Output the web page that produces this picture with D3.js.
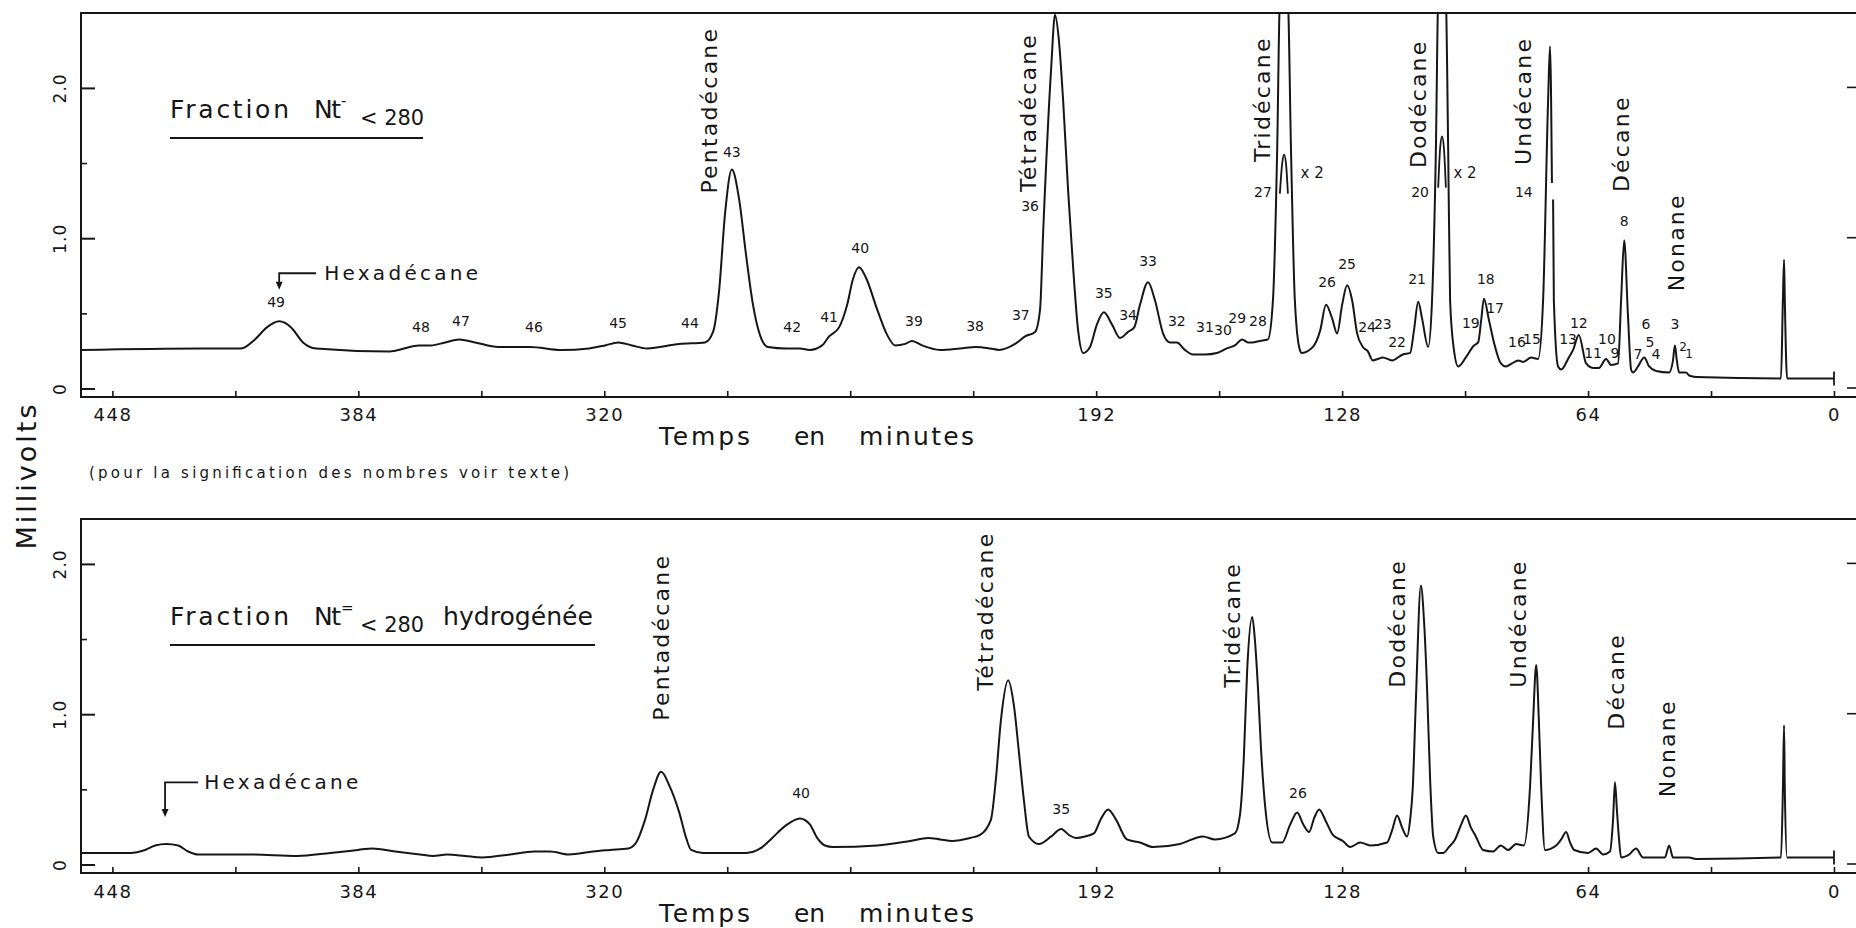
<!DOCTYPE html>
<html>
<head>
<meta charset="utf-8">
<script src="https://cdn.jsdelivr.net/npm/d3@7"></script>
<style>
  body { margin: 0; background: #fff; }
  svg text { font-family: "DejaVu Sans", sans-serif; fill: #161616; }
</style>
</head>
<body>
<div id="chart"></div>
<script>
const topTrace = [
  [456.2,0.26],[425.2,0.27],[414.5,0.27],[410.9,0.33],[407.8,0.41],[404.6,0.45],[401.5,0.41],[398.4,0.31],[395.0,0.27],
  [376.0,0.25],[368.2,0.29],[365.1,0.29],[361.4,0.31],[357.8,0.33],[353.6,0.31],[347.6,0.28],[339.3,0.28],[331.2,0.26],
  [324.0,0.27],[319.8,0.29],[316.4,0.31],[312.8,0.29],[308.9,0.27],[300.5,0.30],[293.8,0.31],[291.7,0.38],[290.1,0.66],
  [288.6,1.16],[286.8,1.46],[284.9,1.26],[283.1,0.89],[281.3,0.56],[279.5,0.36],[277.4,0.28],[272.7,0.27],[269.1,0.27],
  [266.5,0.26],[263.3,0.29],[261.5,0.35],[258.9,0.41],[256.8,0.56],[255.3,0.73],[253.7,0.81],[251.9,0.74],[249.0,0.53],
  [246.4,0.36],[244.3,0.29],[241.7,0.30],[239.9,0.32],[237.3,0.29],[232.6,0.26],[227.4,0.27],[223.3,0.28],[219.6,0.27],
  [217.3,0.26],[213.1,0.30],[210.5,0.35],[207.9,0.38],[206.6,0.53],[205.8,1.04],[203.7,2.14],[202.7,2.49],[201.7,2.32],
  [200.6,1.92],[199.3,1.32],[198.0,0.81],[196.7,0.39],[195.4,0.24],[193.6,0.28],[191.8,0.43],[190.0,0.51],[187.9,0.43],
  [185.8,0.34],[183.7,0.38],[182.1,0.41],[180.6,0.56],[178.5,0.71],[176.7,0.59],[174.6,0.37],[172.8,0.31],[171.0,0.31],
  [168.9,0.26],[166.8,0.23],[163.7,0.23],[160.6,0.24],[158.0,0.27],[155.9,0.29],[154.0,0.33],[152.5,0.31],[151.4,0.31],
  [149.4,0.32],[147.3,0.33],[146.0,0.59],[144.9,1.59],[144.2,2.6],[143.1,2.8],[142.1,2.6],[141.3,1.59],[140.3,0.59],
  [139.0,0.26],[138.5,0.24],[135.6,0.28],[133.7,0.39],[132.2,0.56],[130.6,0.47],[129.3,0.37],[128.0,0.56],[126.7,0.69],
  [125.4,0.59],[124.1,0.37],[122.6,0.28],[121.3,0.25],[120.0,0.19],[118.7,0.20],[117.4,0.21],[115.0,0.19],[112.2,0.23],
  [110.3,0.24],[109.3,0.39],[108.2,0.58],[107.2,0.47],[105.6,0.28],[104.6,0.59],[103.6,1.59],[103.0,2.6],[102.0,2.8],
  [101.0,2.6],[100.4,1.59],[99.9,0.59],[98.9,0.26],[97.8,0.15],[95.8,0.21],[93.7,0.29],[92.6,0.31],[91.8,0.46],
  [91.1,0.60],[89.8,0.46],[88.5,0.31],[86.7,0.17],[85.4,0.15],[83.8,0.17],[82.2,0.19],[80.9,0.18],[78.8,0.21],
  [77.0,0.20],[75.7,0.59],[74.4,1.92],[73.9,2.28],[73.4,1.37],[73.25,null],[73.1,1.26],[72.9,0.59],[71.8,0.15],
  [71.0,0.13],[69.0,0.21],[67.9,0.26],[66.4,0.36],[64.5,0.17],[62.7,0.14],[61.2,0.14],[59.3,0.20],[58.0,0.16],
  [56.2,0.17],[55.4,0.59],[54.6,0.99],[53.6,0.48],[52.8,0.13],[52.3,0.11],[51.0,0.15],[49.4,0.21],[48.1,0.15],
  [46.3,0.12],[42.9,0.11],[41.9,0.19],[41.4,0.29],[40.9,0.19],[40.3,0.11],[38.5,0.11],[37.7,0.09],[35.9,0.08],
  [13.8,0.07],[13.3,0.59],[13.0,0.86],[12.8,0.59],[12.2,0.07],[0,0.07]
];

// pics attenues x 2 (27 et 20)
const inset27 = [[144.2,1.30],[143.6,1.50],[143.1,1.56],[142.6,1.50],[142.1,1.30]];
const inset20 = [[103.0,1.34],[102.5,1.60],[102.0,1.68],[101.5,1.60],[101.0,1.34]];

const botTrace = [
  [456.2,0.08],[443.4,0.08],[439.5,0.10],[436.9,0.13],[434.0,0.14],[430.9,0.13],[428.3,0.09],[425.7,0.07],[412.2,0.07],
  [399.9,0.06],[391.3,0.08],[384.1,0.10],[380.4,0.11],[374.4,0.09],[367.9,0.07],[364.6,0.06],[360.9,0.07],[356.2,0.06],
  [351.8,0.05],[344.5,0.07],[338.3,0.09],[334.1,0.09],[329.2,0.07],[322.9,0.09],[318.5,0.10],[313.8,0.11],[311.7,0.15],
  [309.4,0.30],[307.3,0.50],[305.2,0.62],[303.1,0.53],[300.5,0.35],[298.7,0.18],[297.4,0.10],[294.3,0.08],[283.1,0.08],
  [279.4,0.11],[276.3,0.18],[272.9,0.26],[269.1,0.31],[266.5,0.27],[264.6,0.18],[262.6,0.13],[260.5,0.12],[249.0,0.13],
  [240.4,0.16],[235.7,0.18],[232.6,0.17],[229.5,0.16],[224.8,0.18],[222.2,0.20],[219.4,0.30],[218.1,0.57],[216.8,0.96],
  [214.9,1.23],[213.4,1.06],[212.1,0.75],[210.8,0.43],[209.5,0.19],[206.9,0.14],[203.7,0.19],[201.1,0.24],[199.1,0.20],
  [197.2,0.18],[194.9,0.19],[192.6,0.21],[190.7,0.31],[188.9,0.37],[186.8,0.30],[184.0,0.17],[180.6,0.15],[177.2,0.12],
  [170.2,0.14],[164.2,0.19],[161.1,0.17],[155.9,0.21],[154.6,0.33],[153.6,0.70],[152.7,1.30],[151.4,1.65],[150.7,1.50],
  [149.9,1.18],[149.1,0.77],[148.1,0.41],[146.2,0.15],[143.6,0.15],[141.5,0.27],[139.7,0.35],[138.1,0.27],[136.6,0.22],
  [135.3,0.31],[134.0,0.37],[132.2,0.29],[130.4,0.20],[127.8,0.16],[125.9,0.12],[123.3,0.15],[120.7,0.13],[116.3,0.15],
  [115.0,0.23],[113.7,0.33],[112.4,0.25],[111.1,0.19],[110.3,0.30],[109.6,0.52],[108.8,1.10],[107.5,1.86],[106.7,1.63],
  [105.9,1.18],[105.1,0.57],[104.3,0.19],[103.0,0.08],[101.7,0.08],[100.2,0.12],[98.6,0.17],[97.0,0.27],[95.8,0.33],
  [94.5,0.25],[93.2,0.19],[91.3,0.10],[88.7,0.09],[86.7,0.13],[84.8,0.10],[82.7,0.14],[80.7,0.13],[79.1,0.52],
  [78.3,0.96],[77.5,1.33],[76.8,0.96],[76.2,0.52],[75.2,0.10],[72.3,0.13],[71.0,0.17],[69.7,0.22],[68.7,0.15],
  [67.6,0.10],[64.0,0.08],[61.9,0.11],[60.1,0.07],[58.3,0.09],[57.5,0.30],[57.0,0.55],[56.5,0.37],[56.0,0.19],
  [55.4,0.05],[53.3,0.07],[51.5,0.11],[49.7,0.05],[46.3,0.05],[44.0,0.05],[42.9,0.13],[41.9,0.05],[37.7,0.05],
  [35.9,0.04],[13.8,0.05],[13.3,0.50],[13.0,0.93],[12.8,0.50],[12.2,0.05],[0,0.05]
];

// numeros des pics [texte, temps, mV]
const topPeakLabels = [
  ["49",405.4,0.58],["48",367.7,0.41],["47",357.3,0.45],["46",338.3,0.41],["45",316.4,0.44],["44",297.7,0.44],
  ["43",286.8,1.58],["42",271.1,0.41],["41",261.5,0.48],["40",253.4,0.94],["39",239.4,0.45],["38",223.5,0.42],
  ["37",211.6,0.49],["36",209.2,1.22],["35",190.0,0.64],["34",183.7,0.49],["33",178.5,0.85],["32",171.0,0.45],
  ["31",163.7,0.41],["30",159.0,0.39],["29",155.3,0.47],["28",149.9,0.45],["27",148.6,1.31],["26",131.9,0.71],
  ["25",126.7,0.83],["24",121.5,0.41],["23",117.4,0.43],["22",113.7,0.31],["21",108.5,0.73],["20",107.7,1.31],
  ["19",94.5,0.44],["18",90.6,0.73],["17",88.2,0.54],["16",82.5,0.31],["15",78.6,0.33],["14",80.7,1.31],
  ["13",69.2,0.33],["12",66.4,0.44],["11",62.7,0.24],["10",59.1,0.33],["9",57.0,0.24],["8",54.6,1.12],
  ["7",51.0,0.23],["6",48.9,0.43],["5",47.9,0.31],["4",46.3,0.23],["3",41.4,0.43],["2",39.3,0.28],["1",37.7,0.23]
];
const topFactorLabels = [["x 2",135.8,1.44],["x 2",96.0,1.44]];
const botPeakLabels = [["40",268.8,0.48],["35",201.1,0.37],["26",139.5,0.48]];

// noms des alcanes [texte, temps, mV au pied du texte]
const topNames = [
  ["Pentadécane",292.7,1.30],["Tétradécane",209.5,1.31],["Tridécane",148.8,1.51],["Dodécane",108.2,1.47],
  ["Undécane",80.7,1.49],["Décane",55.4,1.31],["Nonane",41.1,0.65]
];
const botNames = [
  ["Pentadécane",305.2,0.96],["Tétradécane",220.9,1.16],["Tridécane",156.6,1.18],["Dodécane",113.5,1.18],
  ["Undécane",82.2,1.18],["Décane",56.7,0.90],["Nonane",43.2,0.45]
];

// fleche Hexadecane [temps fleche, mV pointe, mV haut, temps fin trait, temps texte]
const topHexa = [404.6, 0.66, 0.77, 395.0, 392.9];
const botHexa = [434.3, 0.32, 0.55, 425.7, 424.1];

const xTickValues = d3.range(448, -1, -32);
const xTickLabels = [448, 384, 320, 192, 128, 64, 0];
const yTickValues = [0, 1, 2];
const yTickLabels = ["0", "1.0", "2.0"];
const yMinorValues = [0.5, 1.5];

const W = 1856, H = 928;
const left = 81, rightEdge = 1856;

const svg = d3.select("#chart").append("svg")
  .attr("width", W).attr("height", H);

const x = d3.scaleLinear().domain([448, 0]).range([112.4, 1834]);

const panels = [
  { top: 13, base: 397, y: d3.scaleLinear().domain([0, 2]).range([389, 88.4]),
    trace: topTrace, insets: [inset27, inset20], peaks: topPeakLabels, names: topNames,
    hexa: topHexa, padTick: 11 },
  { top: 519, base: 873, y: d3.scaleLinear().domain([0, 2]).range([865, 564.4]),
    trace: botTrace, insets: [], peaks: botPeakLabels, names: botNames,
    hexa: botHexa, padTick: 12 }
];

const line = d3.line()
  .defined(d => d[1] !== null)
  .curve(d3.curveMonotoneX);

panels.forEach((p, i) => {
  const g = svg.append("g");
  const y = p.y;

  // cadre
  g.append("path")
    .attr("d", `M${rightEdge},${p.top}H${left}V${p.base}H${rightEdge}`)
    .attr("fill", "none").attr("stroke", "#161616").attr("stroke-width", 2);

  // axe X
  const ax = g.append("g")
    .attr("transform", `translate(0,${p.base})`)
    .call(d3.axisBottom(x).tickValues(xTickValues).tickSize(-6).tickPadding(p.padTick)
      .tickFormat(d => xTickLabels.includes(d) ? d : ""));
  ax.select(".domain").remove();
  ax.selectAll("line").attr("stroke", "#161616").attr("stroke-width", 1.6);
  ax.selectAll("text").attr("font-size", 18).attr("letter-spacing", 1.5)
    .attr("font-family", "DejaVu Sans").attr("fill", "#161616");

  // graduations Y
  g.selectAll(".ymaj").data(yTickValues).join("line")
    .attr("x1", left).attr("x2", left + 14)
    .attr("y1", d => y(d)).attr("y2", d => y(d))
    .attr("stroke", "#161616").attr("stroke-width", 2);
  g.selectAll(".ymin").data(yMinorValues).join("line")
    .attr("x1", left).attr("x2", left + 6)
    .attr("y1", d => y(d)).attr("y2", d => y(d))
    .attr("stroke", "#161616").attr("stroke-width", 1.6);
  g.selectAll(".yright").data(yTickValues).join("line")
    .attr("x1", rightEdge - 9).attr("x2", rightEdge)
    .attr("y1", d => y(d) - 1).attr("y2", d => y(d) - 1)
    .attr("stroke", "#161616").attr("stroke-width", 1.6);
  g.selectAll(".ylab").data(yTickValues).join("text")
    .attr("transform", d => `translate(60,${y(d)}) rotate(-90)`)
    .attr("text-anchor", "middle").attr("dominant-baseline", "central")
    .attr("font-size", 17).attr("letter-spacing", 1)
    .text((d, k) => yTickLabels[k]);

  // trace
  const clipId = "clip" + i;
  svg.append("defs").append("clipPath").attr("id", clipId)
    .append("rect").attr("x", left).attr("y", p.top)
    .attr("width", rightEdge - left).attr("height", p.base - p.top);
  const plot = g.append("g").attr("clip-path", `url(#${clipId})`);
  line.x(d => x(d[0])).y(d => y(d[1]));
  plot.append("path").datum(p.trace)
    .attr("d", line).attr("fill", "none")
    .attr("stroke", "#161616").attr("stroke-width", 2).attr("stroke-linejoin", "round");
  p.insets.forEach(s => {
    plot.append("path").datum(s)
      .attr("d", d3.line().x(d => x(d[0])).y(d => y(d[1])).curve(d3.curveMonotoneX))
      .attr("fill", "none").attr("stroke", "#161616").attr("stroke-width", 1.8);
  });

  // repere du zero
  const last = p.trace[p.trace.length - 1];
  g.append("line")
    .attr("x1", x(0)).attr("x2", x(0))
    .attr("y1", y(last[1]) - 7).attr("y2", y(last[1]) + 7)
    .attr("stroke", "#161616").attr("stroke-width", 1.8);

  // numeros des pics
  g.selectAll(".pk").data(p.peaks).join("text")
    .attr("x", d => x(d[1])).attr("y", d => y(d[2]))
    .attr("text-anchor", "middle").attr("dominant-baseline", "central")
    .attr("font-size", d => (d[0] === "1" || d[0] === "2") && i === 0 ? 12 : 14)
    .text(d => d[0]);

  // noms des alcanes
  g.selectAll(".nm").data(p.names).join("text")
    .attr("transform", d => `translate(${x(d[1])},${y(d[2])}) rotate(-90)`)
    .attr("dominant-baseline", "central")
    .attr("font-size", 22).attr("letter-spacing", 2.2)
    .text(d => d[0]);

  // Hexadecane
  const h = p.hexa;
  g.append("path")
    .attr("d", `M${x(h[3])},${y(h[2])}H${x(h[0])}V${y(h[1]) - 6}`)
    .attr("fill", "none").attr("stroke", "#161616").attr("stroke-width", 1.8);
  g.append("path")
    .attr("d", `M${x(h[0]) - 3.5},${y(h[1]) - 8}L${x(h[0]) + 3.5},${y(h[1]) - 8}L${x(h[0])},${y(h[1])}Z`)
    .attr("fill", "#161616");
  g.append("text")
    .attr("x", x(h[4])).attr("y", y(h[2]))
    .attr("dominant-baseline", "central")
    .attr("font-size", 20).attr("textLength", 154).attr("lengthAdjust", "spacing")
    .text("Hexadécane");

  // Temps en minutes
  const tBase = i === 0 ? 445 : 922;
  [["Temps", 659, 91], ["en", 794, 31], ["minutes", 859, 115]].forEach(w => {
    g.append("text").attr("x", w[1]).attr("y", tBase)
      .attr("font-size", 25).attr("textLength", w[2]).attr("lengthAdjust", "spacing")
      .text(w[0]);
  });
});

// x 2
svg.selectAll(".fx").data(topFactorLabels).join("text")
  .attr("x", d => x(d[1])).attr("y", d => panels[0].y(d[2]))
  .attr("text-anchor", "middle").attr("dominant-baseline", "central")
  .attr("font-size", 15).text(d => d[0]);

// titres des fractions
function title(base, sup, extra) {
  svg.append("text").attr("x", 170).attr("y", base)
    .attr("font-size", 25).attr("textLength", 119).attr("lengthAdjust", "spacing")
    .text("Fraction");
  svg.append("text").attr("x", 314).attr("y", base)
    .attr("font-size", 25).attr("textLength", 27).attr("lengthAdjust", "spacing")
    .text("Nt");
  svg.append("text").attr("x", 341).attr("y", base - 12)
    .attr("font-size", 15).text(sup);
  svg.append("text").attr("x", 360).attr("y", base + 7)
    .attr("font-size", 22).attr("textLength", 64).attr("lengthAdjust", "spacingAndGlyphs")
    .text("< 280");
  let end = 423;
  if (extra) {
    svg.append("text").attr("x", 443).attr("y", base)
      .attr("font-size", 25).attr("textLength", 150).attr("lengthAdjust", "spacingAndGlyphs")
      .text(extra);
    end = 595;
  }
  svg.append("line").attr("x1", 170).attr("x2", end)
    .attr("y1", base + 20).attr("y2", base + 20)
    .attr("stroke", "#161616").attr("stroke-width", 2);
}
title(118, "-", null);
title(625, "=", "hydrogénée");

svg.append("text").attr("x", 89).attr("y", 478)
  .attr("font-size", 15).attr("textLength", 480).attr("lengthAdjust", "spacing")
  .text("(pour la signification des nombres voir texte)");

svg.append("text")
  .attr("transform", "translate(26,477) rotate(-90)")
  .attr("text-anchor", "middle").attr("dominant-baseline", "central")
  .attr("font-size", 27).attr("textLength", 145).attr("lengthAdjust", "spacing")
  .text("Millivolts");
</script>
</body>
</html>
